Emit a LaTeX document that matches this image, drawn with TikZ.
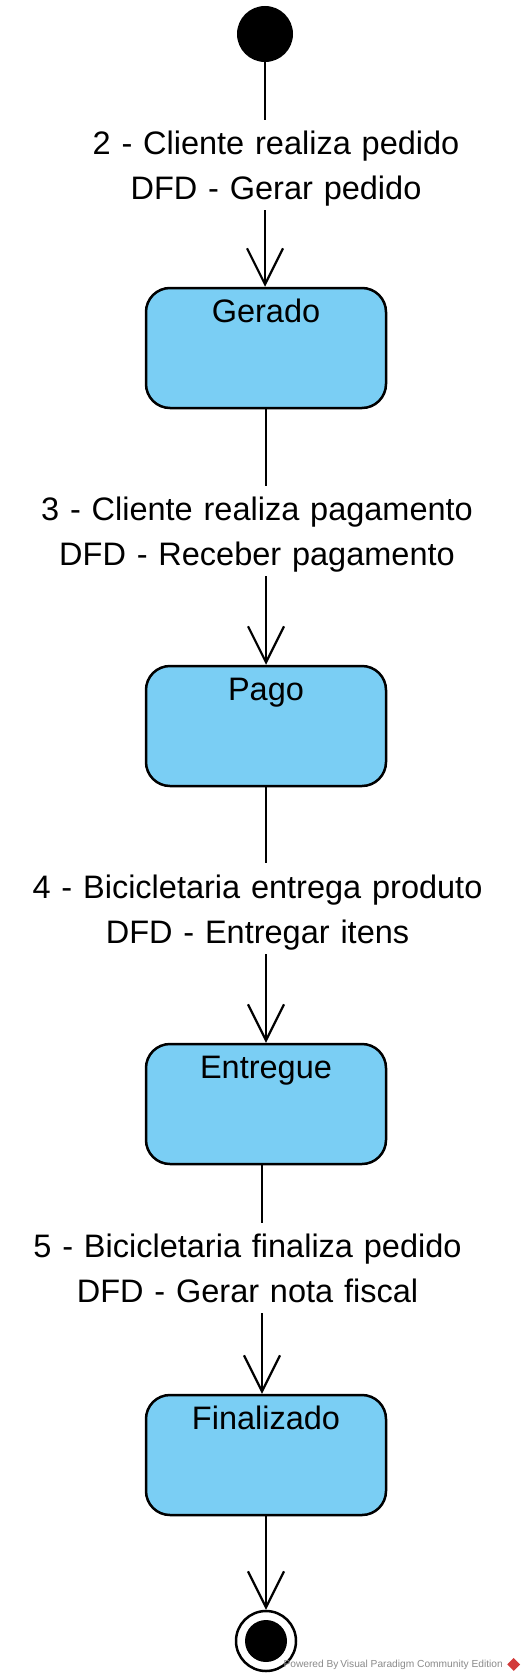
\documentclass[tikz,border=0pt]{standalone}
\usepackage{fontspec}
\setmainfont{Liberation Sans}
\usetikzlibrary{shapes.geometric, arrows.meta, positioning}
\usepackage{xcolor}
\definecolor{stateBlue}{HTML}{7ACEF4}
\definecolor{markGray}{HTML}{8A8A8A}
\definecolor{markRed}{HTML}{D23A3A}
\tikzset{
    statebox/.style={rectangle, rounded corners=24pt, draw=black, fill=stateBlue, line width=2.5pt, minimum width=240pt, minimum height=120pt, inner sep=0pt},
    statename/.style={anchor=north, inner sep=11pt, text height=25pt, text depth=7pt, font=\fontsize{32.5pt}{45pt}\selectfont},
    initstate/.style={circle, fill=black, minimum size=56pt, inner sep=0pt},
    finalstate/.style={circle, draw=black, fill=white, line width=2.5pt, minimum size=60pt, inner sep=0pt},
    finalcore/.style={circle, fill=black, minimum size=42pt, inner sep=0pt},
    trans/.style={-{Straight Barb[length=36pt, width=36pt]}, line width=2.2pt, draw=black},
    translabel/.style={fill=white, text width=500pt, align=center, inner xsep=0pt, inner ysep=2pt, text height=33pt, text depth=53.5pt, font=\fontsize{32.5pt}{45pt}\selectfont},
    watermark/.style={anchor=base east, inner sep=0pt, text=markGray, font=\fontsize{10.2pt}{12pt}\selectfont},
}

\begin{document}
\begin{tikzpicture}[x=1pt, y=-1pt]
        \useasboundingbox (0,0) rectangle (528,1680);

        % states
        \node[initstate] (init) at (265,34) {};
        \node[statebox, label={[statename]north:Gerado}] (gerado) at (266,348) {};
        \node[statebox, label={[statename]north:Pago}] (pago) at (266,726) {};
        \node[statebox, label={[statename]north:Entregue}] (entregue) at (266,1104) {};
        \node[statebox, label={[statename]north:Finalizado}] (finalizado) at (266,1455) {};
        \node[finalstate] (final) at (266,1641) {};
        \node[finalcore] (finaldot) at (final.center) {};

        % transitions
        \draw[trans] (init.south) -- node[translabel, pos=0.458, xshift=11pt] {2 - Cliente realiza pedido\\DFD - Gerar pedido} (init.south |- gerado.north);
        \draw[trans] (gerado) -- node[translabel, pos=0.4765, xshift=-9pt] {3 - Cliente realiza pagamento\\DFD - Receber pagamento} (pago);
        \draw[trans] (pago) -- node[translabel, pos=0.4746, xshift=-8.5pt] {4 - Bicicletaria entrega produto\\DFD - Entregar itens} (entregue);
        \draw[trans] ([xshift=-4pt]entregue.south) -- node[translabel, pos=0.45, xshift=-14.5pt] {5 - Bicicletaria finaliza pedido\\DFD - Gerar nota fiscal} ([xshift=-4pt]finalizado.north);
        \draw[trans] (finalizado) -- (final);

        % editor mark
        \node[watermark] (vptext) at (503,1667) {Powered By\,Visual Paradigm Community Edition};
        \node[diamond, fill=markRed, minimum size=13pt, inner sep=0pt, right=4pt of vptext.east] (vplogo) {};
    \end{tikzpicture}
\end{document}
